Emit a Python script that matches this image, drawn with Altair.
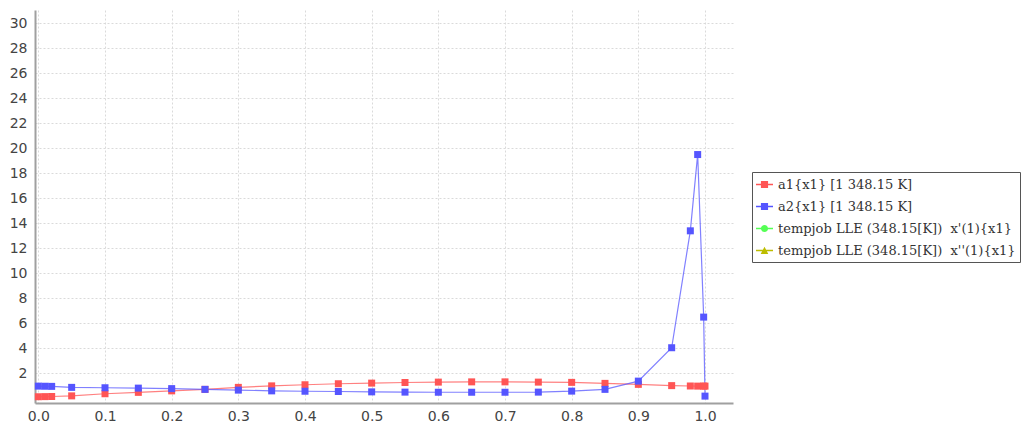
import altair as alt
import pandas as pd

x_vals = [0.0, 0.01, 0.02, 0.05, 0.1, 0.15, 0.2, 0.25, 0.3, 0.35, 0.4, 0.45, 0.5,
          0.55, 0.6, 0.65, 0.7, 0.75, 0.8, 0.85, 0.9, 0.95, 0.978, 0.989, 0.998, 1.0]
a1_vals = [0.13, 0.14, 0.15, 0.2, 0.37, 0.48, 0.6, 0.72, 0.88, 1.0, 1.09, 1.17, 1.22,
           1.27, 1.3, 1.32, 1.32, 1.3, 1.28, 1.2, 1.12, 1.02, 0.99, 0.98, 0.98, 0.98]
a2_vals = [0.98, 0.97, 0.96, 0.88, 0.85, 0.82, 0.78, 0.72, 0.66, 0.6, 0.57, 0.55, 0.52,
           0.5, 0.49, 0.49, 0.49, 0.5, 0.58, 0.72, 1.38, 4.05, 13.4, 19.5, 6.5, 0.18]

series_names = [
    "a1{x1} [1 348.15 K]",
    "a2{x1} [1 348.15 K]",
    "tempjob LLE (348.15[K]) \u00a0x'(1){x1}",
    "tempjob LLE (348.15[K]) \u00a0x''(1){x1}",
]
series_colors = ["#FF5555", "#5555FF", "#55FF55", "#BDBD00"]
x_ticks = [round(i * 0.1, 1) for i in range(11)]
y_ticks = list(range(2, 31, 2))

rows = []
for xv, v in zip(x_vals, a1_vals):
    rows.append({"x": xv, "y": v, "series": series_names[0]})
for xv, v in zip(x_vals, a2_vals):
    rows.append({"x": xv, "y": v, "series": series_names[1]})
df = pd.DataFrame(rows)
legend_df = pd.DataFrame({"series": series_names})

line_part = "M-1,-0.08H1V0.08H-1Z "
shape_paths = [
    line_part + "M-0.42,-0.42H0.42V0.42H-0.42Z",
    line_part + "M-0.42,-0.42H0.42V0.42H-0.42Z",
    line_part + "M-0.42,0A0.42,0.42 0 1,1 0.42,0A0.42,0.42 0 1,1 -0.42,0Z",
    line_part + "M0,-0.45L0.45,0.4H-0.45Z",
]

xscale = alt.Scale(domain=[-0.005, 1.042], nice=False, zero=False)
yscale = alt.Scale(domain=[-0.37, 31.06], nice=False, zero=False)

xaxis = alt.Axis(values=x_ticks, format=".1f", title=None, grid=True, ticks=False,
                 labelPadding=6, labelOverlap=False, tickCount=30)
yaxis = alt.Axis(values=y_ticks, format="d", title=None, grid=True, ticks=False,
                 labelPadding=8, labelOverlap=False, tickCount=30)

base = alt.Chart(df)

lines = base.mark_line(strokeWidth=1.2, opacity=0.75).encode(
    x=alt.X("x:Q", scale=xscale, axis=xaxis),
    y=alt.Y("y:Q", scale=yscale, axis=yaxis),
    stroke=alt.Stroke("series:N", scale=alt.Scale(domain=series_names, range=series_colors),
                      legend=None),
    detail="series:N",
)

points = base.mark_square(size=49, opacity=1, filled=True).encode(
    x=alt.X("x:Q", scale=xscale),
    y=alt.Y("y:Q", scale=yscale),
    fill=alt.Fill("series:N", scale=alt.Scale(domain=series_names, range=series_colors),
                  legend=None),
)

legend_layer = alt.Chart(legend_df).transform_filter("false").mark_point(
    filled=True, opacity=1
).encode(
    color=alt.Color("series:N", scale=alt.Scale(domain=series_names, range=series_colors),
                    legend=alt.Legend(title=None)),
    shape=alt.Shape("series:N", scale=alt.Scale(domain=series_names, range=shape_paths),
                    legend=alt.Legend(title=None)),
)

chart = alt.layer(lines, points, legend_layer).properties(
    width=698,
    height=393,
    autosize=alt.AutoSizeParams(type="none"),
    padding={"left": 27, "top": 2, "right": 293, "bottom": 20},
).resolve_scale(color="independent", shape="independent").configure_view(
    stroke=None
).configure_axis(
    domainColor="#A0A0A0",
    domainWidth=2,
    gridColor="#DADADA",
    gridDash=[2, 2],
    gridWidth=1,
    labelFont="DejaVu Sans",
    labelFontSize=14,
    labelColor="#444444",
).configure_legend(
    orient="none",
    legendX=717,
    legendY=162,
    strokeColor="#555555",
    fillColor="white",
    padding=4,
    symbolSize=289,
    symbolStrokeWidth=0,
    symbolOpacity=1,
    labelFont="DejaVu Serif",
    labelFontSize=13,
    labelColor="#333333",
    labelOffset=5,
    rowPadding=6,
    labelLimit=400,
)

chart.save("out.html", embed_options={"renderer": "svg", "actions": False})
